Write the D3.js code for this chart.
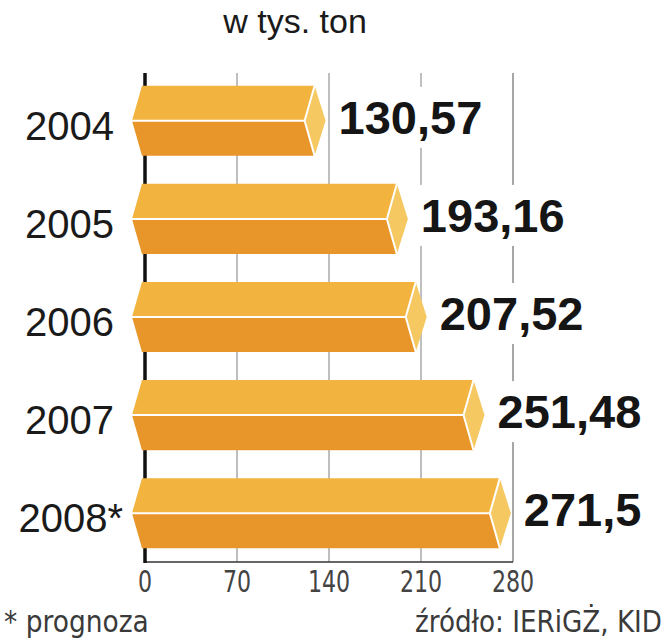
<!DOCTYPE html>
<html>
<head>
<meta charset="utf-8">
<script src="https://cdn.jsdelivr.net/npm/d3@7"></script>
<style>
  body { margin: 0; background: #fff; }
  svg { display: block; }
</style>
</head>
<body>
<script>
// data
const years = ["2004", "2005", "2006", "2007", "2008*"];
const values = [130.57, 193.16, 207.52, 251.48, 271.5];
const valueLabels = ["130,57", "193,16", "207,52", "251,48", "271,5"];
const tickValues = [0, 70, 140, 210, 280];

const width = 668, height = 640;
const narrow = "DejaVu Sans Condensed, Liberation Sans Narrow, sans-serif";

const svg = d3.select("body").append("svg")
  .attr("width", width)
  .attr("height", height);

// scales
const x = d3.scaleLinear().domain([0, 280]).range([145, 513]);
const y = d3.scaleBand().domain(years).range([72, 562]).paddingInner(0.285).paddingOuter(0.14);
const bh = y.bandwidth();

// title
svg.append("text")
  .attr("x", 295).attr("y", 33)
  .attr("text-anchor", "middle")
  .style("font-family", "Liberation Sans, Arial, sans-serif")
  .style("font-size", "34px")
  .attr("fill", "#1a1a1a")
  .text("w tys. ton");

// grid lines
svg.append("g").selectAll("line")
  .data(tickValues.slice(1))
  .join("line")
  .attr("x1", d => x(d)).attr("x2", d => x(d))
  .attr("y1", 73).attr("y2", 562)
  .attr("stroke", (d, i) => i === 3 ? "#888" : "#aaa")
  .attr("stroke-width", 1.5);

// bottom axis line
svg.append("line")
  .attr("x1", x(0)).attr("x2", x(280))
  .attr("y1", 562).attr("y2", 562)
  .attr("stroke", "#333").attr("stroke-width", 1.5);

// zero line
svg.append("line")
  .attr("x1", x(0)).attr("x2", x(0))
  .attr("y1", 73).attr("y2", 563)
  .attr("stroke", "#111").attr("stroke-width", 3.5);

// bars
const bars = svg.append("g").selectAll("g")
  .data(years.map((yr, i) => ({ yr, v: values[i], label: valueLabels[i] })))
  .join("g");

function topFace(d) {
  const t = y(d.yr), m = t + bh / 2, xv = x(d.v), x0 = x(0);
  return `M${x0 - 3},${t} L${xv - 2},${t} L${xv - 12},${m} L${x0 - 13},${m} Z`;
}
function bottomFace(d) {
  const t = y(d.yr), m = t + bh / 2, b = t + bh, xv = x(d.v), x0 = x(0);
  return `M${x0 - 13},${m} L${xv - 12},${m} L${xv - 2},${b} L${x0 - 3},${b} Z`;
}
function capFace(d) {
  const t = y(d.yr), m = t + bh / 2, b = t + bh, xv = x(d.v);
  return `M${xv - 2},${t} L${xv + 9},${m} L${xv - 2},${b} L${xv - 12},${m} Z`;
}

bars.append("path").attr("d", topFace).attr("fill", "#f2b43f");
bars.append("path").attr("d", bottomFace).attr("fill", "#e8962a");
bars.append("path").attr("d", capFace).attr("fill", "#f5c862");
// white separators
bars.append("path")
  .attr("d", d => {
    const t = y(d.yr), m = t + bh / 2, b = t + bh, xv = x(d.v), x0 = x(0);
    return `M${x0 - 13},${m} L${xv - 12},${m} L${xv - 2},${t} M${xv - 12},${m} L${xv - 2},${b}`;
  })
  .attr("fill", "none").attr("stroke", "#fff").attr("stroke-width", 2);

// value labels with white background
const vl = bars.append("g");
vl.append("rect").attr("class", "bg").attr("fill", "#fff");
vl.append("text")
  .attr("x", d => x(d.v) + 22)
  .attr("y", d => y(d.yr) + bh / 2 + 13)
  .style("font-family", "Liberation Sans, Arial, sans-serif")
  .style("font-weight", "bold")
  .style("font-size", "47px")
  .attr("fill", "#151515")
  .text(d => d.label);
vl.each(function() {
  const g = d3.select(this);
  const bb = g.select("text").node().getBBox();
  g.select("rect")
    .attr("x", bb.x - 8).attr("y", bb.y - 4)
    .attr("width", bb.width + 16).attr("height", bb.height + 8);
});

// year labels
svg.append("g").selectAll("text")
  .data(years)
  .join("text")
  .attr("x", d => d.endsWith("*") ? 123 : 114)
  .attr("y", d => y(d) + bh / 2 + 19)
  .attr("text-anchor", "end")
  .style("font-family", "Liberation Sans, Arial, sans-serif")
  .style("font-size", "40px")
  .attr("fill", "#1a1a1a")
  .text(d => d);

// x axis tick labels (squeezed horizontally)
svg.append("g").selectAll("text")
  .data(tickValues)
  .join("text")
  .attr("transform", d => `translate(${x(d)},592) scale(0.82,1)`)
  .attr("text-anchor", "middle")
  .style("font-family", narrow)
  .style("font-size", "30px")
  .attr("fill", "#444")
  .text(d => d3.format("d")(d));

// footer
svg.append("text")
  .attr("transform", "translate(4,632) scale(0.95,1)")
  .style("font-family", narrow)
  .style("font-size", "31px")
  .attr("fill", "#3a3a3a")
  .text("* prognoza");
svg.append("text")
  .attr("transform", "translate(662,632) scale(0.94,1)")
  .attr("text-anchor", "end")
  .style("font-family", narrow)
  .style("font-size", "31px")
  .attr("fill", "#3a3a3a")
  .text("źródło: IERiGŻ, KID");
</script>
</body>
</html>
